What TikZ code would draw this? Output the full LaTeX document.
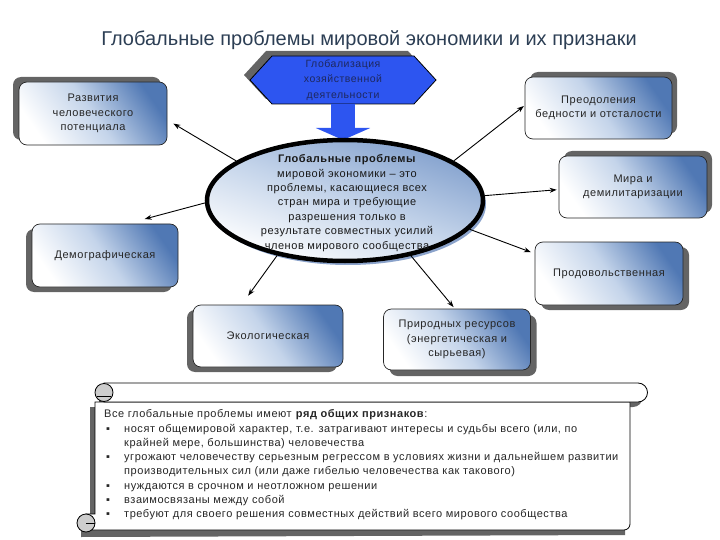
\documentclass[tikz,border=0pt]{standalone}
\usepackage{fontspec}
\setmainfont{Liberation Sans}
\newfontfamily\spaced{Liberation Sans}[LetterSpace=5]
\usepackage{xcolor}
\usepackage{tikz}
\usetikzlibrary{shapes.geometric,arrows.meta,shadows,backgrounds,positioning}

\definecolor{titlecol}{RGB}{44,62,84}
\definecolor{boxblue}{RGB}{80,120,180}
\definecolor{boxmid}{RGB}{196,212,234}
\definecolor{shadowgray}{RGB}{100,100,100}
\definecolor{hexblue}{RGB}{45,85,240}
\definecolor{hextext}{RGB}{30,40,95}
\definecolor{elltop}{RGB}{130,160,205}
\definecolor{ellshadow}{RGB}{110,140,190}
\definecolor{curlgray}{RGB}{205,205,205}

\newcommand\headfont{\fontsize{20}{24}\selectfont}
\newcommand\probfont{\spaced\fontsize{11}{14.5}\selectfont}
\newcommand\hexfont{\spaced\fontsize{10.5}{15.5}\selectfont}
\newcommand\corefont{\spaced\fontsize{11}{14.4}\selectfont}
\newcommand\notefont{\spaced\fontsize{11}{14.3}\selectfont}

\begin{document}
\begin{tikzpicture}[x=1pt, y=-1pt,
    prob/.style={draw=black!85, line width=0.7pt, rounded corners=8pt, top color=boxblue, bottom color=white, middle color=boxmid, shading angle=-55, align=center, font=\probfont, text=black!85, inner sep=2pt},
    dims/.style 2 args={minimum width=#1, minimum height=#2},
    shad/.style 2 args={drop shadow={shadow xshift=#1, shadow yshift=#2, fill=shadowgray, opacity=1}},
    link/.style={-{Stealth[length=7pt,width=5pt]}, line width=0.9pt, black}
]
    \useasboundingbox (0,0) rectangle (720,540);

    \node[font=\headfont, text=titlecol] (title) at (369,40) {Глобальные проблемы мировой экономики и их признаки};

    % hexagon on top
    \node[align=center, font=\hexfont, text=hextext, dims={186pt}{48pt}] (glob) at (343,80) {Глобализация\\хозяйственной\\деятельности};
    \begin{scope}[on background layer]
        \fill[shadowgray, shift={(-6,-5)}] (250,80) -- (272,56) -- (414,56) -- (436,80) -- (414,104) -- (272,104) -- cycle;
        \filldraw[fill=hexblue, draw=black, line width=0.8pt] (250,80) -- (272,56) -- (414,56) -- (436,80) -- (414,104) -- (272,104) -- cycle;
    \end{scope}

    \draw[hexblue, line width=24pt, -{Triangle[width=54pt,length=12pt]}] (glob.south) -- (glob.south |- 0,140);

    % central ellipse
    \node[ellipse, draw=black, line width=4.5pt, top color=elltop, bottom color=white, middle color=boxmid, shading angle=-20, dims={276pt}{121pt}, inner sep=0pt, drop shadow={shadow xshift=3pt, shadow yshift=-4pt, fill=ellshadow, opacity=0.8}] (core) at (345,200.5) {};
    \node[align=center, font=\corefont, text=black!90] (coretxt) at (347,203) {\textbf{Глобальные проблемы}\\мировой экономики – это\\проблемы, касающиеся всех\\стран мира и требующие\\разрешения только в\\результате совместных усилий\\членов мирового сообщества};

    % problem boxes
    \node[prob, shad={-6pt}{5pt}, dims={148pt}{63pt}] (dev) at (93,113.5) {Развития\\человеческого\\потенциала};
    \node[prob, shad={5pt}{5pt}, dims={147pt}{62pt}] (pov) at (598.5,108) {Преодоления\\бедности и отсталости};
    \node[prob, shad={5pt}{5pt}, dims={148pt}{62pt}] (peace) at (633,187) {Мира и\\демилитаризации};
    \node[prob, shad={-6pt}{-5pt}, dims={146pt}{63pt}] (demo) at (105,255.5) {Демографическая};
    \node[prob, shad={6pt}{-5pt}, dims={148pt}{63pt}] (food) at (609,273.5) {Продовольственная};
    \node[prob, shad={-6pt}{-5pt}, dims={150pt}{62pt}] (eco) at (268,336) {Экологическая};
    \node[prob, shad={6pt}{-6pt}, dims={147pt}{61pt}] (res) at (457,339.5) {Природных ресурсов\\(энергетическая и\\сырьевая)};

    \draw[link, shorten >=7pt] (core.160) -- (dev.-5);
    \draw[link, shorten >=1pt] (core.20) -- (pov.178);
    \draw[link, shorten >=2pt] (core.2) -- (peace.182);
    \draw[link, shorten >=18pt] (core.181) -- (demo.55);
    \draw[link, shorten >=4pt] (core.-13) -- (food.165);
    \draw[link, shorten >=11pt] (core.219) -- (eco.130);
    \draw[link, shorten >=2pt] (core.-40) -- (res.94);

    % scroll
    \fill[shadowgray, shift={(-5,5)}] (104,383) -- (638,383) arc[start angle=-90, end angle=90, radius=9.5] -- (630,402) -- (630,530) -- (86,532) -- (86,514) -- (95,514) -- (95,402) -- (104,402) -- cycle;
    \filldraw[fill=white, draw=black, line width=0.8pt] (95,402) -- (630,402) -- (630,524) arc[start angle=0, end angle=90, radius=6] -- (86,530) -- (86,514) -- (95,514) -- cycle;
    \filldraw[fill=white, draw=black, line width=0.8pt] (104,383) -- (638,383) arc[start angle=-90, end angle=90, radius=9.5] -- (104,402) -- cycle;
    \filldraw[fill=curlgray, draw=black, line width=0.8pt] (104,392.5) circle[radius=9];
    \draw[black, line width=0.6pt] (97,396) -- (111,396);
    \filldraw[fill=curlgray, draw=black, line width=0.8pt] (86,523) circle[radius=9];
    \draw[black, line width=0.6pt] (86,523) -- (95,523);

    \node[anchor=north west, inner sep=0pt, font=\notefont, text=black!85] (traits) at (104,407.5) {%
        \begin{tabular}{@{}p{20pt}@{}l@{}}
        \multicolumn{2}{@{}l@{}}{Все глобальные проблемы имеют \textbf{ряд общих признаков}:}\\
        \hspace{2pt}▪ & носят общемировой характер, т.е. затрагивают интересы и судьбы всего (или, по\\
         & крайней мере, большинства) человечества\\
        \hspace{2pt}▪ & угрожают человечеству серьезным регрессом в условиях жизни и дальнейшем развитии\\
         & производительных сил (или даже гибелью человечества как такового)\\
        \hspace{2pt}▪ & нуждаются в срочном и неотложном решении\\
        \hspace{2pt}▪ & взаимосвязаны между собой\\
        \hspace{2pt}▪ & требуют для своего решения совместных действий всего мирового сообщества
        \end{tabular}};
\end{tikzpicture}
\end{document}
